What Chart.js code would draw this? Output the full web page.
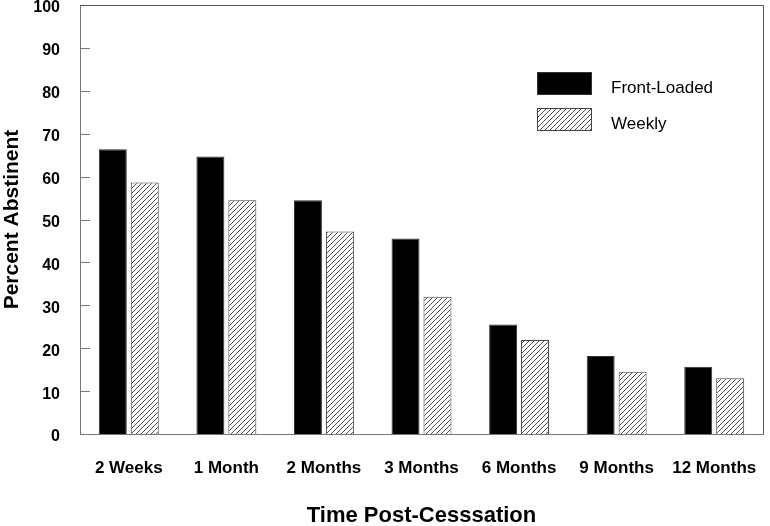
<!DOCTYPE html>
<html><head><meta charset="utf-8">
<script src="https://cdn.jsdelivr.net/npm/chart.js@4/dist/chart.umd.min.js"></script>
<style>html,body{margin:0;padding:0;background:#fff}#wrap{width:770px;height:526px}</style>
</head><body><div id="wrap"><canvas id="c" width="770" height="526"></canvas></div>
<script>
const categories = ['2 Weeks', '1 Month', '2 Months', '3 Months', '6 Months', '9 Months', '12 Months'];
const frontLoaded = [66.4, 64.7, 54.5, 45.6, 25.5, 18.2, 15.7];
const weekly = [58.6, 54.5, 47.2, 32.0, 21.9, 14.5, 13.0];
const seriesNames = ['Front-Loaded', 'Weekly'];
const yTickValues = [0, 10, 20, 30, 40, 50, 60, 70, 80, 90, 100];

const FONT = "'Liberation Sans', Arial, Helvetica, sans-serif";

function hatch() {
  const s = 5;
  const c = document.createElement('canvas');
  c.width = s; c.height = s;
  const x = c.getContext('2d');
  x.fillStyle = '#fff'; x.fillRect(0, 0, s, s);
  x.strokeStyle = '#3a3a3a'; x.lineWidth = 0.9;
  x.beginPath();
  x.moveTo(0, s); x.lineTo(s, 0);
  x.moveTo(-1, 1); x.lineTo(1, -1);
  x.moveTo(s - 1, s + 1); x.lineTo(s + 1, s - 1);
  x.stroke();
  return x.createPattern(c, 'repeat');
}
const hatchPattern = hatch();

const framePlugin = {
  id: 'frame',
  afterDraw(chart) {
    const { ctx, chartArea: a, scales: { y } } = chart;
    ctx.save();
    ctx.lineWidth = 1;
    ctx.strokeStyle = '#777';
    ctx.beginPath();
    y.ticks.forEach((t, i) => {
      const py = Math.round(y.getPixelForTick(i)) + 0.5;
      ctx.moveTo(a.left, py); ctx.lineTo(a.left + 10, py);
    });
    ctx.stroke();
    ctx.strokeStyle = '#555';
    ctx.beginPath();
    ctx.moveTo(Math.round(a.left), Math.round(a.top) + 0.5);
    ctx.lineTo(Math.round(a.right) + 0.5, Math.round(a.top) + 0.5);
    ctx.lineTo(Math.round(a.right) + 0.5, Math.round(a.bottom));
    ctx.stroke();
    // legend
    const lx = a.right - 226, bw = 55, bh = 23;
    const rows = [72, 108];
    chart.data.datasets.forEach((ds, i) => {
      const by = rows[i];
      ctx.fillStyle = ds.backgroundColor;
      ctx.fillRect(lx, by, bw, bh);
      ctx.strokeStyle = ds.borderColor;
      ctx.lineWidth = 1;
      ctx.strokeRect(lx + 0.5, by + 0.5, bw - 1, bh - 1);
      ctx.fillStyle = '#000';
      ctx.font = '17px ' + FONT;
      ctx.textBaseline = 'middle';
      ctx.textAlign = 'left';
      ctx.fillText(ds.label, lx + 74, by + bh / 2 + 4.5);
    });
    ctx.restore();
  }
};

new Chart(document.getElementById('c'), {
  type: 'bar',
  data: {
    labels: categories,
    datasets: [
      { label: seriesNames[0], data: frontLoaded, backgroundColor: '#000', borderColor: '#333', borderWidth: 1 },
      { label: seriesNames[1], data: weekly, backgroundColor: hatchPattern, borderColor: '#444', borderWidth: 1 }
    ]
  },
  plugins: [framePlugin],
  options: {
    responsive: false,
    animation: false,
    devicePixelRatio: 1,
    layout: { padding: { top: 5, right: 7, left: 0, bottom: 0 } },
    plugins: { legend: { display: false }, tooltip: { enabled: false } },
    datasets: { bar: { categoryPercentage: 0.655, barPercentage: 0.875 } },
    scales: {
      x: {
        grid: { display: false, drawTicks: false },
        border: { display: true, color: '#777', width: 1 },
        ticks: { color: '#000', font: { family: FONT, size: 17, weight: 'bold' }, padding: 24, maxRotation: 0 },
        title: { display: true, text: 'Time Post-Cesssation', color: '#000', font: { family: FONT, size: 22, weight: 'bold', lineHeight: 1 }, padding: { top: 0, bottom: -1 } },
        afterFit(s) { s.height = 92; s.paddingLeft = 0; s.paddingRight = 0; }
      },
      y: {
        min: 0, max: 100,
        afterBuildTicks(s) { s.ticks = yTickValues.map(v => ({ value: v })); },
        grid: { display: false, drawTicks: false },
        border: { display: true, color: '#777', width: 1 },
        ticks: { color: '#000', font: { family: FONT, size: 16, weight: 'bold' }, padding: 20, labelOffset: 3 },
        title: { display: true, text: 'Percent Abstinent', color: '#000', font: { family: FONT, size: 21, weight: 'bold', lineHeight: 1 }, padding: { top: 2, bottom: 0 } },
        afterFit(s) { s.width = 80; s.paddingTop = 0; s.paddingBottom = 0; }
      }
    }
  }
});
</script>
</body></html>
